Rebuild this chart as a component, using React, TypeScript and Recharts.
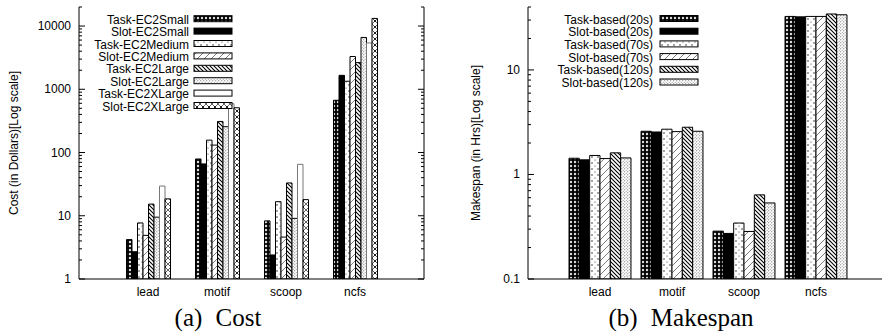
import React from 'react';
import { BarChart, Bar, XAxis, YAxis, Legend } from 'recharts';

// workflows on the x axis
const workflows = ['lead', 'motif', 'scoop', 'ncfs'];

// (a) cost, dollars
const costSeries = [
  'Task-EC2Small',
  'Slot-EC2Small',
  'Task-EC2Medium',
  'Slot-EC2Medium',
  'Task-EC2Large',
  'Slot-EC2Large',
  'Task-EC2XLarge',
  'Slot-EC2XLarge',
];
const costLead = [4.2, 2.7, 7.7, 4.9, 15.3, 9.5, 29.5, 18.5];
const costMotif = [79, 66, 157, 131, 310, 256, 590, 510];
const costScoop = [8.3, 2.4, 16.7, 4.6, 33, 9.1, 65, 18];
const costNcfs = [670, 1660, 1340, 3300, 2640, 6600, 5400, 13200];
const costTicks = [1, 10, 100, 1000, 10000];

// (b) makespan, hours
const spanSeries = [
  'Task-based(20s)',
  'Slot-based(20s)',
  'Task-based(70s)',
  'Slot-based(70s)',
  'Task-based(120s)',
  'Slot-based(120s)',
];
const spanLead = [1.43, 1.38, 1.52, 1.42, 1.61, 1.44];
const spanMotif = [2.59, 2.55, 2.71, 2.57, 2.83, 2.59];
const spanScoop = [0.287, 0.273, 0.343, 0.285, 0.638, 0.534];
const spanNcfs = [32.5, 32.2, 32.5, 32.5, 34.3, 33.7];
const spanTicks = [0.1, 1, 10];

const fills = [
  'url(#pCross)',
  '#000',
  'url(#pDots)',
  'url(#pFwd)',
  'url(#pBack)',
  'url(#pStip)',
  '#fff',
  'url(#pXo)',
];
const strokes = ['#000', '#000', '#000', '#000', '#000', '#000', '#777', '#000'];

const toRows = (groups: number[][]) =>
  workflows.map((name, i) => {
    const row: any = { name };
    groups[i].forEach((v, j) => (row[`s${j}`] = v));
    return row;
  });

const costRows = toRows([costLead, costMotif, costScoop, costNcfs]);
const spanRows = toRows([spanLead, spanMotif, spanScoop, spanNcfs]);

// majors plus the 2..9 minor ticks of each decade, clipped to the domain
const withMinors = (majors: number[], max: number) => {
  const out: number[] = [];
  majors.forEach((m) => {
    for (let k = 1; k <= 9; k++) {
      const v = +(m * k).toPrecision(6);
      if (v <= max) out.push(v);
    }
  });
  return out;
};

const isMajor = (v: number) => {
  const l = Math.log10(v);
  return Math.abs(l - Math.round(l)) < 1e-6;
};

const LogTick = (props: any) => {
  const { x, y, payload, side } = props;
  const v = payload.value;
  const major = isMajor(v);
  const len = major ? 6 : 3;
  const dir = side === 'right' ? -1 : 1;
  return (
    <g>
      <line x1={x} x2={x + dir * len} y1={y} y2={y} stroke="#000" strokeWidth={1} />
      {major && side !== 'right' && (
        <text x={x - 8} y={y} dy={4} textAnchor="end" fontSize={12} fill="#000">
          {String(v)}
        </text>
      )}
    </g>
  );
};

const CatTick = (props: any) => {
  const { x, y, payload } = props;
  return (
    <text x={x} y={y + 17} textAnchor="middle" fontSize={12} fill="#000">
      {payload.value}
    </text>
  );
};

// legend drawn in series order (recharts sorts its payload by name)
const makeLegend = (names: string[], textX: number, keyX: number, y0: number, step: number) => () => (
  <svg width={190} height={120} style={{ display: 'block' }}>
    {names.map((n, i) => {
      const base = y0 + step * i;
      return (
        <g key={n}>
          <text x={textX} y={base} textAnchor="end" fontSize={12} fill="#000">
            {n}
          </text>
          <rect x={keyX} y={base - 8} width={38} height={6} fill={fills[i]} stroke="#000" strokeWidth={1} />
        </g>
      );
    })}
  </svg>
);

const Patterns = () => (
  <svg width={0} height={0} style={{ position: 'absolute' }}>
    <defs>
      <pattern id="pCross" width={4} height={4} patternUnits="userSpaceOnUse">
        <rect width={4} height={4} fill="#000" />
        <path d="M2 0.6L3.4 2L2 3.4L0.6 2Z" fill="#fff" />
      </pattern>
      <pattern id="pDots" width={6} height={6} patternUnits="userSpaceOnUse">
        <rect width={6} height={6} fill="#fff" />
        <circle cx={1} cy={1} r={0.7} fill="#000" />
        <circle cx={4} cy={4} r={0.6} fill="#333" />
      </pattern>
      <pattern id="pFwd" width={7} height={7} patternUnits="userSpaceOnUse">
        <rect width={7} height={7} fill="#fff" />
        <path d="M0 7L7 0M-1 1L1 -1M6 8L8 6" stroke="#444" strokeWidth={0.7} />
      </pattern>
      <pattern id="pBack" width={4} height={4} patternUnits="userSpaceOnUse">
        <rect width={4} height={4} fill="#fff" />
        <path d="M0 0L4 4M-1 3L1 5M3 -1L5 1" stroke="#000" strokeWidth={1.1} />
      </pattern>
      <pattern id="pStip" width={3} height={3} patternUnits="userSpaceOnUse">
        <rect width={3} height={3} fill="#fff" />
        <circle cx={0.75} cy={0.75} r={0.55} fill="#555" />
        <circle cx={2.25} cy={2.25} r={0.55} fill="#888" />
      </pattern>
      <pattern id="pXo" width={6} height={6} patternUnits="userSpaceOnUse">
        <rect width={6} height={6} fill="#fff" />
        <path d="M0 0L6 6M6 0L0 6" stroke="#222" strokeWidth={0.7} />
        <circle cx={3} cy={3} r={0.9} fill="#000" />
      </pattern>
    </defs>
  </svg>
);

interface PanelProps {
  rows: any[];
  series: string[];
  ticks: number[];
  domain: [number, number];
  yWidth: number;
  bandPad: number;
  barSize: number;
  width: number;
  yLabel: string;
  labelX: number;
  legend: (props: any) => React.ReactNode;
  legendLeft: number;
}

const Panel = (p: PanelProps) => {
  const allTicks = withMinors(p.ticks, p.domain[1]);
  return (
    <BarChart
      width={p.width}
      height={332}
      data={p.rows}
      margin={{ top: 7, right: 0, bottom: 0, left: 0 }}
      barGap={0}
      barSize={p.barSize}
    >
      <XAxis
        dataKey="name"
        xAxisId="b"
        height={53}
        padding={{ left: p.bandPad, right: p.bandPad }}
        tickLine={false}
        tickSize={0}
        tickMargin={0}
        interval={0}
        tick={<CatTick />}
        axisLine={{ stroke: '#000' }}
      />
      <XAxis
        dataKey="name"
        xAxisId="t"
        orientation="top"
        height={0}
        tick={false}
        tickLine={false}
        axisLine={{ stroke: '#000' }}
      />
      <YAxis
        yAxisId="l"
        type="number"
        scale="log"
        domain={p.domain}
        allowDataOverflow
        ticks={allTicks}
        interval={0}
        width={p.yWidth}
        tickSize={0}
        tickMargin={0}
        tickLine={false}
        tick={<LogTick side="left" />}
        axisLine={{ stroke: '#000' }}
        label={() => (
          <text
            x={p.labelX}
            y={143}
            transform={`rotate(-90 ${p.labelX} 143)`}
            textAnchor="middle"
            dominantBaseline="central"
            fontSize={12}
            fill="#000"
          >
            {p.yLabel}
          </text>
        )}
      />
      <YAxis
        yAxisId="r"
        orientation="right"
        type="number"
        scale="log"
        domain={p.domain}
        allowDataOverflow
        ticks={allTicks}
        interval={0}
        width={17}
        tickSize={0}
        tickMargin={0}
        tickLine={false}
        tick={<LogTick side="right" />}
        axisLine={{ stroke: '#000' }}
      />
      {p.series.map((s, i) => (
        <Bar
          key={s}
          dataKey={`s${i}`}
          name={s}
          xAxisId="b"
          yAxisId="l"
          fill={fills[i]}
          stroke={strokes[i]}
          strokeWidth={1}
          isAnimationActive={false}
        />
      ))}
      <Legend
        layout="vertical"
        align="center"
        verticalAlign="middle"
        content={p.legend}
        wrapperStyle={{ position: 'absolute', left: p.legendLeft, top: 8, width: 190, height: 120 }}
      />
    </BarChart>
  );
};

const captionStyle: React.CSSProperties = {
  position: 'absolute',
  top: 304,
  width: 300,
  textAlign: 'center',
  fontFamily: '"Liberation Serif", "DejaVu Serif", serif',
  fontSize: 25,
  lineHeight: '28px',
  wordSpacing: 7,
  color: '#000',
};

export default function App() {
  return (
    <div
      style={{
        position: 'absolute',
        left: 0,
        top: 0,
        width: 882,
        height: 332,
        overflow: 'hidden',
        background: '#fff',
        fontFamily: '"Liberation Sans", Arial, sans-serif',
      }}
    >
      <Patterns />
      <div style={{ position: 'absolute', left: 0, top: 0 }}>
        <Panel
          rows={costRows}
          series={costSeries}
          ticks={costTicks}
          domain={[1, 20000]}
          yWidth={79}
          bandPad={34.5}
          barSize={5.5}
          width={441}
          yLabel="Cost (in Dollars)[Log scale]"
          labelX={14}
          legend={makeLegend(costSeries, 109, 114, 15.7, 12.4)}
          legendLeft={80}
        />
      </div>
      <div style={{ position: 'absolute', left: 441, top: 0 }}>
        <Panel
          rows={spanRows}
          series={spanSeries}
          ticks={spanTicks}
          domain={[0.1, 40]}
          yWidth={87}
          bandPad={36}
          barSize={10.33}
          width={464}
          yLabel="Makespan (in Hrs)[Log scale]"
          labelX={35}
          legend={makeLegend(spanSeries, 112, 119, 15.5, 12.7)}
          legendLeft={100}
        />
      </div>
      <div style={{ ...captionStyle, left: 218 - 150 }}>(a) Cost</div>
      <div style={{ ...captionStyle, left: 681 - 150 }}>(b) Makespan</div>
    </div>
  );
}
